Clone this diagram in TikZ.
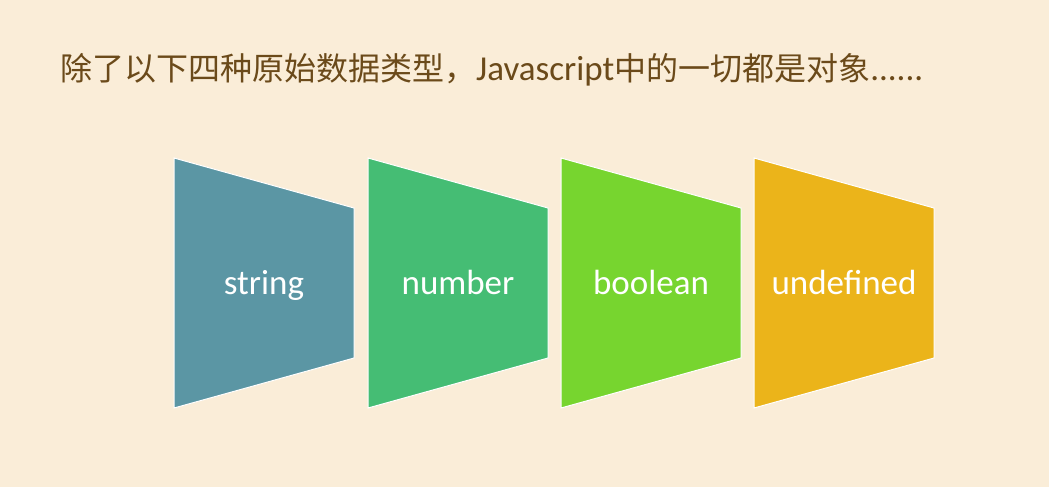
\documentclass[tikz,border=0pt]{standalone}
\usepackage{fontspec}
\setmainfont{Carlito}
\newfontfamily\cjk{Noto Sans CJK SC}
\definecolor{bg}{HTML}{FAEDD8}
\definecolor{titlec}{HTML}{6B4A1A}
\definecolor{cA}{HTML}{5B96A4}
\definecolor{cB}{HTML}{45BD74}
\definecolor{cC}{HTML}{77D52F}
\definecolor{cD}{HTML}{EBB41A}
\tikzset{
  trap/.style={draw=white, line width=1pt, line join=miter},
  lbl/.style={text=white, font=\fontsize{35}{40}\selectfont, inner sep=0pt, anchor=base},
}
\begin{document}
\begin{tikzpicture}[x=1pt,y=-1pt]
\fill[bg] (0,0) rectangle (1049,487);
\useasboundingbox (0,0) rectangle (1049,487);
\node[anchor=base west, text=titlec, inner sep=0pt, font=\fontsize{32}{38}\selectfont] (title) at (60,81)
  {{\cjk 除了以下四种原始数据类型，}{\fontsize{35}{40}\selectfont Javascript}{\cjk 中的一切都是对象}{\fontsize{35}{40}\selectfont ......}};
\foreach \x/\c/\t/\n in {174/cA/string/s1, 368/cB/number/s2, 561/cC/boolean/s3, 754/cD/undefined/s4}{
  \filldraw[trap, fill=\c] (\x,158) -- (\x+180,208) -- (\x+180,358) -- (\x,408) -- cycle;
  \node[lbl] (\n) at (\x+90,294) {\t};
}
\end{tikzpicture}
\end{document}
